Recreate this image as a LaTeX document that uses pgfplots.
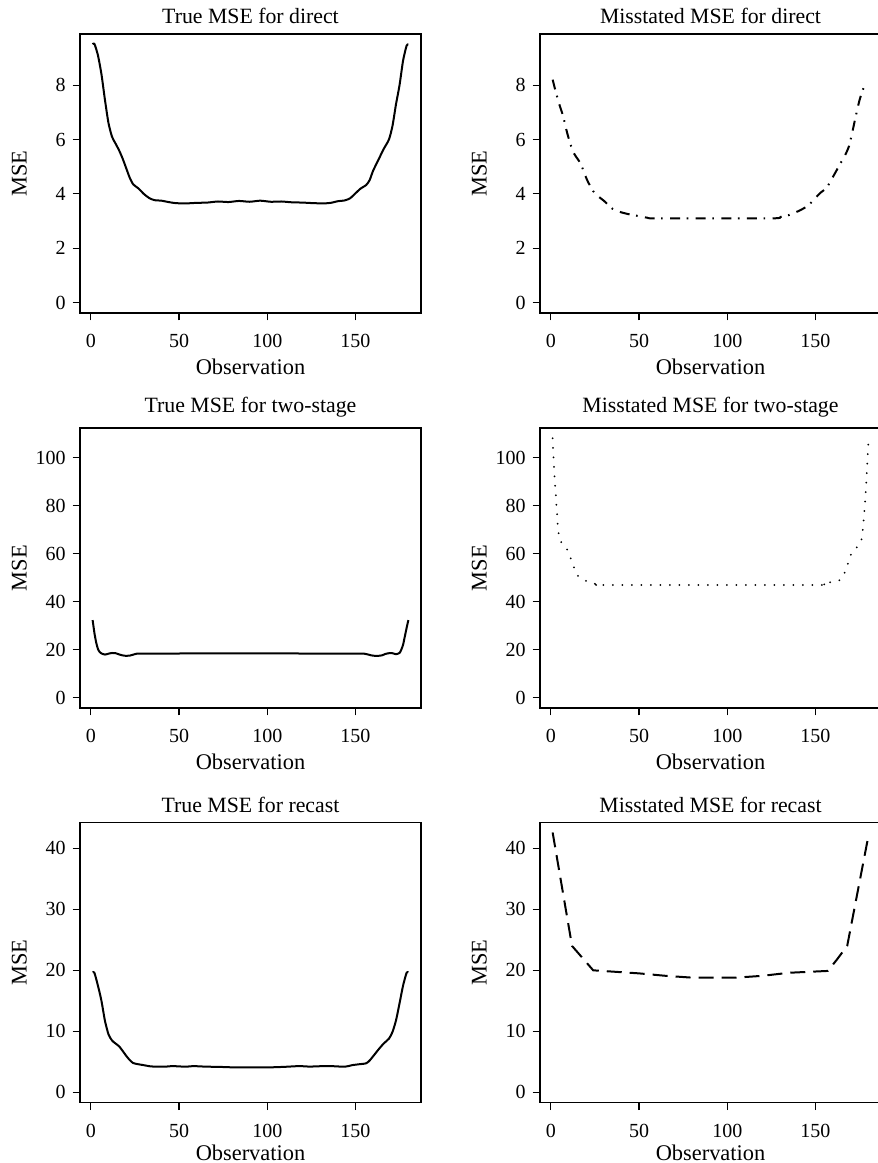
\documentclass[border=0pt]{standalone}
\usepackage{fontspec}
\setmainfont{Liberation Serif}
\usepackage{pgfplots}
\pgfplotsset{compat=1.18}
\pgfplotsset{
  mse/.style={
    scale only axis,
    xmin=-6.16, xmax=187.16,
    xtick={0,50,100,150},
    tick align=outside,
    tick pos=left,
    major tick length=3.7pt,
    axis line style={line width=0.6pt},
    every tick/.style={black, line width=0.6pt},
    tick label style={font=\fontsize{10}{12}\selectfont},
    xticklabel style={yshift=-3.5pt},
    /pgf/number format/assume math mode=true,
    every axis title/.style={at={(axis description cs:0.5,1.065)}, anchor=center, font=\fontsize{10.9}{12}\selectfont},
    xlabel={Observation},
    ylabel={MSE},
    every axis x label/.style={at={(axis description cs:0.5,-0.193)}, anchor=center, font=\fontsize{11.2}{13}\selectfont},
    every axis y label/.style={at={(axis description cs:-0.178,0.5)}, rotate=90, anchor=center, font=\fontsize{11.2}{13}\selectfont},
    clip=true,
  },
  row1/.style={height=139.5pt, ymin=-0.38, ymax=9.88, ytick={0,2,4,6,8}},
  row2/.style={height=140pt, ymin=-4.32, ymax=112.32, ytick={0,20,40,60,80,100},
     every axis title/.style={at={(axis description cs:0.5,1.076)}, anchor=center, font=\fontsize{10.9}{12}\selectfont}},
  row3/.style={height=140pt, ymin=-1.7, ymax=44.2, ytick={0,10,20,30,40},
     every axis x label/.style={at={(axis description cs:0.5,-0.18)}, anchor=center, font=\fontsize{11.2}{13}\selectfont}},
  curve/.style={black, line width=1pt, line join=round},
}
\begin{document}
\begin{tikzpicture}
\useasboundingbox (0,0) rectangle (439pt,581.5pt);
\clip (0,0) rectangle (439pt,581.5pt);

% Row 1 left
\begin{axis}[mse, row1, at={(40pt,425pt)}, anchor=south west, width=170.5pt,
  title={True MSE for direct}]
\addplot[curve, smooth, tension=0.4] table {
1 9.50
2 9.52
4 9.1
6 8.4
8 7.45
10 6.6
12 6.1
14 5.85
16 5.6
18 5.3
20 4.95
22 4.6
24 4.35
27 4.2
30 4.0
33 3.85
36 3.77
40 3.75
44 3.70
48 3.66
54 3.65
60 3.67
66 3.68
72 3.72
78 3.70
84 3.74
90 3.71
96 3.75
102 3.71
108 3.72
114 3.69
120 3.68
126 3.66
132 3.65
136 3.67
140 3.73
144 3.76
147 3.84
150 4.02
153 4.2
156 4.32
158 4.5
160 4.85
163 5.25
166 5.65
169 6.0
171 6.5
173 7.3
175 8.0
177 8.9
179 9.45
180 9.5
};
\end{axis}

% Row 1 right
\begin{axis}[mse, row1, at={(270pt,425pt)}, anchor=south west, width=170.5pt,
  title={Misstated MSE for direct}]
\addplot[curve, smooth, tension=0.4, dash pattern=on 5pt off 3.3pt on 0.8pt off 3.7pt] table {
1 8.2
3 7.7
5 7.25
7 6.85
9 6.3
11 5.85
13 5.5
15 5.3
17 5.1
19 4.75
21 4.45
24 4.1
27 3.9
30 3.75
35 3.45
40 3.32
45 3.24
50 3.18
55 3.12
60 3.1
125 3.1
130 3.15
134 3.2
138 3.3
142 3.42
146 3.58
150 3.85
153 4.05
156 4.2
158 4.4
161 4.75
164 5.1
167 5.45
169 5.75
171 6.3
173 6.9
175 7.45
177 7.85
179 8.1
};
\end{axis}

% Row 2 left
\begin{axis}[mse, row2, at={(40pt,227.5pt)}, anchor=south west, width=170.5pt,
  title={True MSE for two-stage}]
\addplot[curve, smooth, tension=0.4] table {
1 32.3
2 27
3 23
4 20.3
5 19
6 18.4
8 17.95
10 18.3
12 18.6
14 18.5
16 18.0
18 17.6
20 17.4
22 17.5
24 17.9
26 18.3
30 18.3
40 18.35
60 18.4
100 18.4
140 18.35
150 18.3
155 18.3
157 18.0
159 17.6
161 17.4
163 17.4
165 17.6
167 18.2
169 18.5
171 18.5
173 18.1
175 18.6
176 20
177 22
178 25.5
179 29
180 32.3
};
\end{axis}

% Row 2 right
\begin{axis}[mse, row2, at={(270pt,227.5pt)}, anchor=south west, width=170.5pt,
  title={Misstated MSE for two-stage}]
\addplot[curve, smooth, tension=0.4, line cap=round, line width=1pt, dash pattern=on 0pt off 4.75pt] table {
1 108
2 93
3 82
4 71
5 66
7 63.5
9 62
11 58.5
13 54.5
15 51
18 49.3
21 48.3
24 47.6
28 47.0
32 46.9
150 46.9
154 47.3
158 48
162 48.7
164 49
166 51
168 55
170 59.5
172 61.5
174 63
176 65.5
177 71
178 80
179 92
180 106
};
\end{axis}

% Row 3 left
\begin{axis}[mse, row3, at={(40pt,30.15pt)}, anchor=south west, width=170.5pt,
  title={True MSE for recast}]
\addplot[curve, smooth, tension=0.4] table {
1 19.7
2 19.6
4 17.5
6 15.0
8 11.7
10 9.5
12 8.5
14 8.0
16 7.55
18 6.8
20 6.0
22 5.3
24 4.8
27 4.6
30 4.45
34 4.25
38 4.2
42 4.2
46 4.3
50 4.25
54 4.2
58 4.3
62 4.25
66 4.2
72 4.18
80 4.1
90 4.08
100 4.08
110 4.18
118 4.3
124 4.22
130 4.28
136 4.3
144 4.2
148 4.45
152 4.6
156 4.75
158 5.2
160 5.9
163 7.0
166 8.0
169 8.8
171 9.9
173 11.8
175 14.6
177 17.5
179 19.6
180 19.7
};
\end{axis}

% Row 3 right
\begin{axis}[mse, row3, at={(270pt,30.15pt)}, anchor=south west, width=170.5pt,
  title={Misstated MSE for recast}]
\addplot[curve, dash pattern=on 7.5pt off 4pt] table {
1 42.6
12 24
24 20
50 19.5
65 19.1
80 18.8
105 18.8
120 19.1
135 19.6
157 19.9
162 21.7
168 24
180 42
};
\end{axis}
\end{tikzpicture}
\end{document}
